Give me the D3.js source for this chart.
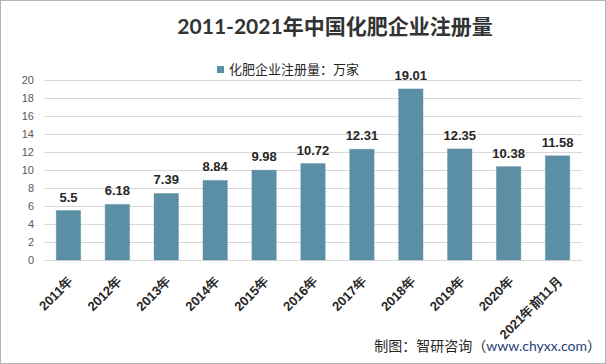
<!DOCTYPE html>
<html><head><meta charset="utf-8">
<script src="https://cdn.jsdelivr.net/npm/d3@7"></script>
<style>
html,body{margin:0;padding:0;background:#fff;}
svg{display:block;font-family:"Lato","Noto Sans CJK SC",sans-serif;}
</style></head>
<body><div id="chart"></div>
<script>
const categories = ["2011年","2012年","2013年","2014年","2015年","2016年","2017年","2018年","2019年","2020年","2021年前11月"];
const values = [5.5, 6.18, 7.39, 8.84, 9.98, 10.72, 12.31, 19.01, 12.35, 10.38, 11.58];
const yTicks = [0,2,4,6,8,10,12,14,16,18,20];
const title = "2011-2021年中国化肥企业注册量";
const legendLabel = "化肥企业注册量：万家";

const W = 606, H = 364;
const margin = {left:44, right:24, top:80, bottom:104};
const svg = d3.select("#chart").append("svg").attr("width", W).attr("height", H);

svg.append("rect").attr("x",0.5).attr("y",0.5).attr("width",W-1).attr("height",H-1)
  .attr("fill","#fff").attr("stroke","#b4b4b4");

const x = d3.scaleBand().domain(categories).range([margin.left, W-margin.right]).paddingInner(0.5).paddingOuter(0.25);
const y = d3.scaleLinear().domain([0,20]).range([H-margin.bottom, margin.top]);

// gridlines
svg.append("g").selectAll("line").data(yTicks).join("line")
  .attr("x1", margin.left).attr("x2", W-margin.right)
  .attr("y1", d=>Math.round(y(d))+0.5).attr("y2", d=>Math.round(y(d))+0.5)
  .attr("stroke","#d9d9d9").attr("stroke-width",1);

// y axis
const yAxis = svg.append("g").attr("transform",`translate(${margin.left-6},0)`)
  .call(d3.axisLeft(y).tickValues(yTicks).tickSize(0).tickPadding(4));
yAxis.select(".domain").remove();
yAxis.selectAll("text").attr("font-size",11).attr("fill","#595959").attr("font-family","Liberation Sans, Arial, sans-serif");

// bars
svg.append("g").selectAll("rect").data(values).join("rect")
  .attr("x",(d,i)=>x(categories[i])).attr("width",x.bandwidth())
  .attr("y",d=>y(d)).attr("height",d=>y(0)-y(d))
  .attr("fill","#5b8fa6").attr("stroke","#4f7f95").attr("stroke-width",0.6).attr("stroke-dasharray","1,1");

// data labels
svg.append("g").selectAll("text").data(values).join("text")
  .attr("x",(d,i)=>x(categories[i])+x.bandwidth()/2).attr("y",d=>y(d)-9)
  .attr("text-anchor","middle").attr("font-size",13).attr("font-weight","bold").attr("fill","#262626")
  .attr("font-family","Liberation Sans, Arial, sans-serif")
  .text(d=>d);

// x axis labels
const xAxis = svg.append("g").attr("transform",`translate(0,${y(0)})`)
  .call(d3.axisBottom(x).tickSize(0).tickPadding(0));
xAxis.select(".domain").remove();
xAxis.selectAll("text")
  .attr("font-size",13).attr("font-weight","bold").attr("fill","#262626")
  .attr("text-anchor","end")
  .attr("transform","translate(2,19) rotate(-45)")
  .attr("dy","0.35em").attr("x",0).attr("y",0);

// title
svg.append("text").attr("x",335).attr("y",34).attr("text-anchor","middle")
  .attr("font-size",21).attr("font-weight","bold").attr("fill","#333")
  .text(title);

// legend
svg.append("rect").attr("x",217).attr("y",66).attr("width",7).attr("height",7).attr("fill","#5b8fa6");
svg.append("text").attr("x",229).attr("y",74).attr("font-size",13).attr("fill","#262626").text(legendLabel);

// source
const src = svg.append("text").attr("x",601).attr("y",351).attr("text-anchor","end").attr("font-size",14).attr("fill","#262626");
src.append("tspan").text("制图：智研咨询（");
src.append("tspan").attr("fill","#1f3f7a").text("www.chyxx.com");
src.append("tspan").text("）");
</script></body></html>
